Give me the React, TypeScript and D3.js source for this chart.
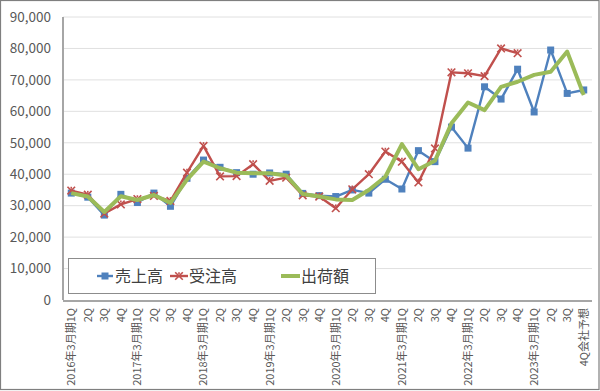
import React from "react";
import * as d3 from "d3";

const categories = [
  "2016年3月期1Q","2Q","3Q","4Q",
  "2017年3月期1Q","2Q","3Q","4Q",
  "2018年3月期1Q","2Q","3Q","4Q",
  "2019年3月期1Q","2Q","3Q","4Q",
  "2020年3月期1Q","2Q","3Q","4Q",
  "2021年3月期1Q","2Q","3Q","4Q",
  "2022年3月期1Q","2Q","3Q","4Q",
  "2023年3月期1Q","2Q","3Q","4Q会社予想",
];

const sales = [
  34000, 32700, 27000, 33600, 31000, 34000, 29800, 38700,
  44500, 42200, 40500, 40000, 40400, 40000, 33900, 33200,
  32900, 35000, 34000, 38400, 35300, 47500, 44000, 55000,
  48300, 67800, 63900, 73400, 59800, 79500, 65700, 66800,
];

const orders = [
  34800, 33500, 27500, 30400, 32100, 33100, 31500, 40500,
  49000, 39300, 39400, 43200, 37900, 38900, 33300, 32900,
  29200, 35200, 40000, 47200, 44000, 37400, 48200, 72400,
  72100, 71200, 80000, 78500,
];

const shipments = [
  34000, 32900, 28000, 33000, 31800, 33400, 30900, 38300,
  44000, 41900, 40500, 40300, 40300, 39600, 33700, 32900,
  32000, 31800, 35000, 39200, 49600, 41600, 44300, 56200,
  62800, 60400, 67800, 69400, 71600, 72600, 79000, 65200,
];

const yTicks = [0, 10000, 20000, 30000, 40000, 50000, 60000, 70000, 80000, 90000];

const W = 600, H = 391;
const L = 63, R = 592, T = 17, B = 300;
const FONT = "'Noto Sans CJK JP', 'Noto Sans', sans-serif";

const BLUE = "#4F81BD";
const RED = "#C0504D";
const GREEN = "#9BBB59";

export default function App() {
  const x = d3.scaleBand<number>().domain(d3.range(categories.length)).range([L, R]);
  const cx = (i: number) => (x(i) as number) + x.bandwidth() / 2;
  const y = d3.scaleLinear().domain([0, 90000]).range([B, T]);
  const line = d3.line<number>().x((_, i) => cx(i)).y((d) => y(d));
  const fmt = d3.format(",");

  const star = (px: number, py: number, s: number, key: any) => (
    <g key={key} stroke={RED} strokeWidth={1.6} fill="none">
      <line x1={px - s} y1={py - s} x2={px + s} y2={py + s} />
      <line x1={px - s} y1={py + s} x2={px + s} y2={py - s} />
      <line x1={px} y1={py - s} x2={px} y2={py - s + 2} />
    </g>
  );

  return (
    <svg width={W} height={H} style={{ position: "absolute", left: 0, top: 0, background: "#fff" }} fontFamily={FONT}>
      <rect x={0.5} y={0.5} width={W - 1.5} height={H - 2} fill="#fff" stroke="#7f7f7f" strokeWidth={1.2} />
      {yTicks.map((t) => (
        <g key={t}>
          {t > 0 && <line x1={L} x2={R} y1={y(t)} y2={y(t)} stroke="#e0e0e0" strokeWidth={1} />}
          <text x={51} y={y(t)} dy="0.35em" textAnchor="end" fontSize={13.5} fill="#595959">{fmt(t)}</text>
        </g>
      ))}
      <line x1={L} x2={L} y1={T} y2={B} stroke="#a6a6a6" strokeWidth={2} />
      <line x1={L} x2={R} y1={B + 1} y2={B + 1} stroke="#a6a6a6" strokeWidth={2} />
      {categories.map((c, i) => (
        <text key={i} transform={`translate(${cx(i)},308) rotate(-90)`} textAnchor="end" dy="0.35em" fontSize={11} fill="#595959">{c}</text>
      ))}
      <path d={line(sales) || ""} fill="none" stroke={BLUE} strokeWidth={2.4} strokeLinejoin="round" />
      {sales.map((v, i) => (
        <rect key={i} x={cx(i) - 3.5} y={y(v) - 3.5} width={7} height={7} fill={BLUE} />
      ))}
      <path d={line(orders) || ""} fill="none" stroke={RED} strokeWidth={2.4} strokeLinejoin="round" />
      {orders.map((v, i) => star(cx(i), y(v), 3.8, i))}
      <path d={line(shipments) || ""} fill="none" stroke={GREEN} strokeWidth={4} strokeLinejoin="round" />
      <g>
        <rect x={68.5} y={258.5} width={307} height={35} fill="#fff" stroke="#8c8c8c" strokeWidth={1} />
        <line x1={97} x2={113} y1={276} y2={276} stroke={BLUE} strokeWidth={2.4} />
        <rect x={101.5} y={272.5} width={7} height={7} fill={BLUE} />
        <text x={115} y={276} dy="0.35em" fontSize={16} fill="#404040">売上高</text>
        <line x1={170} x2={188} y1={276} y2={276} stroke={RED} strokeWidth={2.4} />
        {star(179, 276, 3.8, "lg")}
        <text x={189} y={276} dy="0.35em" fontSize={16} fill="#404040">受注高</text>
        <line x1={281} x2={300} y1={276} y2={276} stroke={GREEN} strokeWidth={4} />
        <text x={301} y={276} dy="0.35em" fontSize={16} fill="#404040">出荷額</text>
      </g>
    </svg>
  );
}
